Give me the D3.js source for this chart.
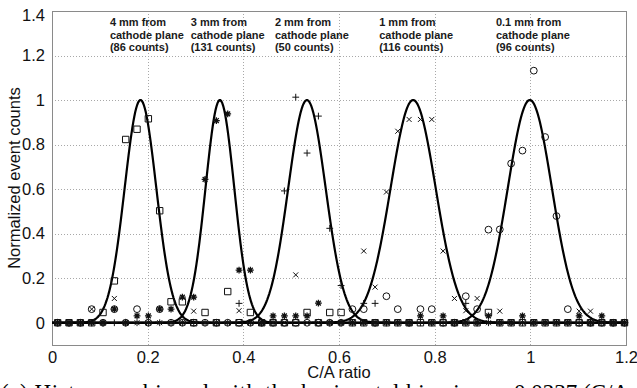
<!DOCTYPE html>
<html>
<head>
<meta charset="utf-8">
<script src="https://cdn.jsdelivr.net/npm/d3@7"></script>
<style>
  body { margin: 0; background: #fff; }
  svg { display: block; }
</style>
</head>
<body>
<svg id="chart" width="637" height="388"></svg>
<script>
// histogram bins (C/A ratio)
const binSize = 0.0237;
const nBins = 51;

// normalized counts per bin
const squares4mm = [0, 0, 0, 0, .046, .188, .823, .869, .916, .503,
    .094, .094, 0, .046, 0, .140, 0, .046, 0, 0,
    0, 0, .046, 0, .046, .046, 0, 0, 0, 0,
    0, 0, 0, 0, 0, 0, 0, 0, .046, 0,
    0, 0, 0, 0, 0, 0, 0, 0, 0, 0,
    0];
const stars3mm = [0, 0, 0, 0, 0, .061, 0, .031, .031, .061,
    .061, .115, .115, .644, .908, .938, .236, .236, 0, .031,
    .031, .031, .031, .088, 0, 0, 0, 0, 0, 0,
    0, 0, .031, 0, .031, 0, 0, 0, .031, 0,
    0, .031, 0, 0, 0, 0, .031, 0, .031, 0,
    0];
const plus2mm = [0, 0, 0, 0, 0, 0, 0, 0, 0, 0,
    0, 0, 0, 0, 0, 0, .087, 0, 0, 0,
    .592, 1.013, .762, .928, .424, .167, 0, .087, .087, 0,
    0, 0, 0, 0, 0, 0, .087, 0, 0, 0,
    0, 0, 0, 0, 0, 0, 0, 0, 0, 0,
    0];
const cross1mm = [0, 0, 0, .061, 0, .109, 0, 0, 0, 0,
    0, 0, .052, 0, 0, 0, .054, 0, 0, 0,
    0, .215, 0, 0, 0, 0, 0, .322, .160, .587,
    .860, .913, .913, .913, .322, .109, .054, .109, 0, .052,
    0, 0, 0, 0, 0, 0, .052, .052, 0, 0,
    0];
const circles01mm = [0, 0, 0, .061, 0, .061, 0, .061, 0, .061,
    0, 0, 0, 0, 0, 0, 0, 0, 0, 0,
    0, 0, 0, 0, 0, 0, .061, .061, 0, .119,
    .061, 0, .061, .061, 0, 0, .119, .061, .418, .419,
    .715, .773, 1.132, .834, .479, .061, 0, 0, 0, 0,
    0];

// gaussian fits (centre, sigma), peak normalized to 1
const fitMeans = [0.185, 0.351, 0.533, 0.755, 0.999];
const fitSigmas = [0.033, 0.030, 0.039, 0.047, 0.046];

// annotations
const noteLines = [
    ["4 mm from", "cathode plane", "(86 counts)"],
    ["3 mm from", "cathode plane", "(131 counts)"],
    ["2 mm from", "cathode plane", "(50 counts)"],
    ["1 mm from", "cathode plane", "(116 counts)"],
    ["0.1 mm from", "cathode plane", "(96 counts)"]
];
const noteX = [0.121, 0.290, 0.466, 0.684, 0.928];
const noteY = 1.331;

const xTicks = [0, 0.2, 0.4, 0.6, 0.8, 1, 1.2];
const yTicks = [0, 0.2, 0.4, 0.6, 0.8, 1, 1.2, 1.4];

const svg = d3.select("#chart");
const pLeft = 52, pRight = 626, pTop = 11, pBottom = 345;

const x = d3.scaleLinear().domain([0, 1.2]).range([pLeft, pRight]);
const y = d3.scaleLinear().domain([-0.1, 1.4]).range([pBottom, pTop]);

// grid
const grid = svg.append("g")
    .attr("stroke", "#a8a8a8")
    .attr("stroke-width", 1)
    .attr("stroke-dasharray", "1,2");
grid.selectAll("line.v")
    .data(xTicks.slice(1, -1))
    .enter().append("line")
    .attr("x1", d => Math.round(x(d)) + 0.5)
    .attr("x2", d => Math.round(x(d)) + 0.5)
    .attr("y1", pTop)
    .attr("y2", pBottom);
grid.selectAll("line.h")
    .data(yTicks.slice(0, -1))
    .enter().append("line")
    .attr("y1", d => Math.round(y(d)) + 0.5)
    .attr("y2", d => Math.round(y(d)) + 0.5)
    .attr("x1", pLeft)
    .attr("x2", pRight);

// box
svg.append("rect")
    .attr("x", pLeft + 0.5)
    .attr("y", pTop + 0.5)
    .attr("width", pRight - pLeft)
    .attr("height", pBottom - pTop)
    .attr("fill", "none")
    .attr("stroke", "#8a8a8a")
    .attr("stroke-width", 1);

// axes
const xAxis = svg.append("g")
    .attr("transform", `translate(0,${pBottom})`)
    .call(d3.axisBottom(x).tickValues(xTicks).tickSize(0).tickPadding(6)
        .tickFormat(d3.format("~g")));
const yAxis = svg.append("g")
    .attr("transform", `translate(${pLeft},0)`)
    .call(d3.axisLeft(y).tickValues(yTicks).tickSize(0).tickPadding(7)
        .tickFormat(d3.format("~g")));
[xAxis, yAxis].forEach(a => {
    a.select(".domain").remove();
    a.selectAll("text")
        .attr("fill", "#111")
        .style("font-family", "'Liberation Sans', Arial, sans-serif")
        .style("font-size", "16.5px");
});
// top label sits a bit lower in the original
yAxis.selectAll(".tick text").filter(d => d === 1.4).attr("dy", "0.55em");

svg.append("text")
    .attr("x", (pLeft + pRight) / 2)
    .attr("y", 378)
    .attr("text-anchor", "middle")
    .attr("fill", "#111")
    .style("font-family", "'Liberation Sans', Arial, sans-serif")
    .style("font-size", "16.5px")
    .text("C/A ratio");

svg.append("text")
    .attr("transform", `translate(19.5,${(pTop + pBottom) / 2}) rotate(-90)`)
    .attr("text-anchor", "middle")
    .attr("fill", "#111")
    .style("font-family", "'Liberation Sans', Arial, sans-serif")
    .style("font-size", "16.5px")
    .text("Normalized event counts");

// fit curves
const xs = d3.range(0, 1.2001, 0.002);
const line = d3.line().x(d => x(d[0])).y(d => y(d[1]));
svg.append("g")
    .selectAll("path")
    .data(fitMeans.map((m, i) => ({m: m, s: fitSigmas[i]})))
    .enter().append("path")
    .attr("d", p => line(xs.map(v => [v, Math.exp(-((v - p.m) ** 2) / (2 * p.s * p.s))])))
    .attr("fill", "none")
    .attr("stroke", "#000")
    .attr("stroke-width", 2.2);

// markers
const bins = d3.range(nBins).map(i => (i + 0.5) * binSize);
const sym = {
    square: "M-3.2,-3.2H3.2V3.2H-3.2Z",
    circle: "M3.4,0A3.4,3.4 0 1 1 -3.4,0A3.4,3.4 0 1 1 3.4,0Z",
    plus: "M-3.4,0H3.4M0,-3.4V3.4",
    cross: "M-2.5,-2.5L2.5,2.5M-2.5,2.5L2.5,-2.5",
    star: "M-3.4,0H3.4M0,-3.4V3.4M-2.4,-2.4L2.4,2.4M-2.4,2.4L2.4,-2.4"
};
const series = [
    {vals: squares4mm, shape: "square"},
    {vals: stars3mm, shape: "star"},
    {vals: plus2mm, shape: "plus"},
    {vals: cross1mm, shape: "cross"},
    {vals: circles01mm, shape: "circle"}
];
series.forEach(s => {
    svg.append("g")
        .selectAll("path")
        .data(s.vals)
        .enter().append("path")
        .attr("transform", (d, i) => `translate(${x(bins[i])},${y(d)})`)
        .attr("d", sym[s.shape])
        .attr("fill", "none")
        .attr("stroke", "#111")
        .attr("stroke-width", s.shape === "star" ? 1.3 : 1);
});

// annotations
noteLines.forEach((lines, k) => {
    const t = svg.append("text")
        .attr("x", x(noteX[k]))
        .attr("y", y(noteY))
        .attr("fill", "#1a1a1a")
        .style("font-family", "'Liberation Sans', Arial, sans-serif")
        .style("font-size", "11px")
        .style("font-weight", "bold");
    lines.forEach((l, j) => {
        t.append("tspan")
            .attr("x", x(noteX[k]))
            .attr("dy", j === 0 ? 0 : 12.5)
            .text(l);
    });
});

// caption (cut off at the bottom of the image)
const cap = svg.append("g")
    .style("font-family", "'Liberation Serif', 'Times New Roman', serif")
    .style("font-size", "23px")
    .attr("fill", "#000");
cap.append("text")
    .attr("x", 1)
    .attr("y", 400)
    .attr("textLength", 500)
    .attr("lengthAdjust", "spacing")
    .text("(a) Histogram binned with the horizontal bin size =");
cap.append("text")
    .attr("x", 514)
    .attr("y", 400)
    .text("0.0237 (C/A ratio)");
</script>
</body>
</html>
